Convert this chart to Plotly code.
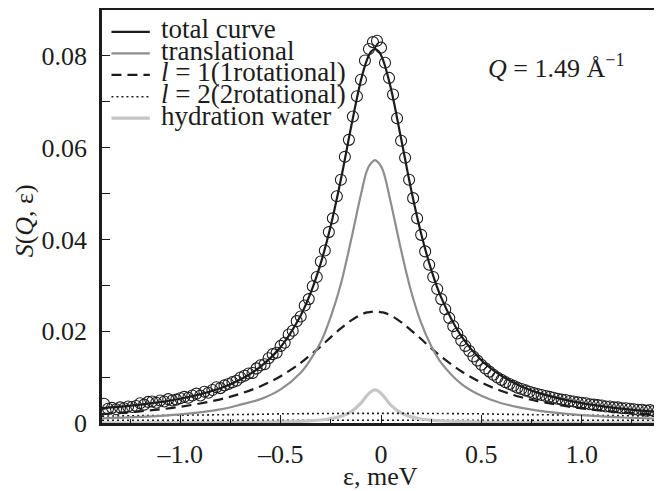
import plotly.graph_objects as go

# ---------------- data ----------------
eps_data = [-1.38, -1.36, -1.34, -1.32, -1.30, -1.28, -1.26, -1.24, -1.22, -1.20,
            -1.18, -1.16, -1.14, -1.12, -1.10, -1.08, -1.06, -1.04, -1.02, -1.00,
            -0.98, -0.96, -0.94, -0.92, -0.90, -0.88, -0.86, -0.84, -0.82, -0.80,
            -0.78, -0.76, -0.74, -0.72, -0.70, -0.68, -0.66, -0.64, -0.62, -0.60,
            -0.58, -0.56, -0.54, -0.52, -0.50, -0.48, -0.46, -0.44, -0.42, -0.40,
            -0.38, -0.36, -0.34, -0.32, -0.30, -0.28, -0.26, -0.24, -0.22, -0.20,
            -0.18, -0.16, -0.14, -0.12, -0.10, -0.08, -0.06, -0.04, -0.02, 0.00,
            0.02, 0.04, 0.06, 0.08, 0.10, 0.12, 0.14, 0.16, 0.18, 0.20,
            0.22, 0.24, 0.26, 0.28, 0.30, 0.32, 0.34, 0.36, 0.38, 0.40,
            0.42, 0.44, 0.46, 0.48, 0.50, 0.52, 0.54, 0.56, 0.58, 0.60,
            0.62, 0.64, 0.66, 0.68, 0.70, 0.72, 0.74, 0.76, 0.78, 0.80,
            0.82, 0.84, 0.86, 0.88, 0.90, 0.92, 0.94, 0.96, 0.98, 1.00,
            1.02, 1.04, 1.06, 1.08, 1.10, 1.12, 1.14, 1.16, 1.18, 1.20,
            1.22, 1.24, 1.26, 1.28, 1.30, 1.32, 1.34, 1.36, 1.38]
s_data = [0.0042, 0.0031, 0.0033, 0.0030, 0.0034, 0.0032, 0.0036, 0.0035, 0.0037, 0.0043,
          0.0040, 0.0046, 0.0047, 0.0044, 0.0049, 0.0047, 0.0052, 0.0049, 0.0051, 0.0054,
          0.0057, 0.0055, 0.0060, 0.0064, 0.0060, 0.0068, 0.0066, 0.0072, 0.0078, 0.0076,
          0.0082, 0.0085, 0.0089, 0.0092, 0.0099, 0.0103, 0.0108, 0.0109, 0.0119, 0.0126,
          0.0128, 0.0141, 0.0150, 0.0153, 0.0168, 0.0175, 0.0193, 0.0201, 0.0222, 0.0232,
          0.0256, 0.0270, 0.0298, 0.0318, 0.0352, 0.0376, 0.0416, 0.0446, 0.0494, 0.0530,
          0.0580, 0.0617, 0.0668, 0.0712, 0.0748, 0.0790, 0.0815, 0.0830, 0.0833, 0.0818,
          0.0785, 0.0752, 0.0716, 0.0664, 0.0615, 0.0578, 0.0530, 0.0490, 0.0446, 0.0410,
          0.0374, 0.0345, 0.0318, 0.0292, 0.0270, 0.0248, 0.0229, 0.0211, 0.0195, 0.0180,
          0.0168, 0.0157, 0.0145, 0.0136, 0.0127, 0.0119, 0.0112, 0.0105, 0.0099, 0.0094,
          0.0089, 0.0085, 0.0081, 0.0077, 0.0074, 0.0071, 0.0068, 0.0065, 0.0063, 0.0061,
          0.0059, 0.0057, 0.0055, 0.0053, 0.0051, 0.0050, 0.0048, 0.0047, 0.0045, 0.0044,
          0.0043, 0.0041, 0.0040, 0.0039, 0.0038, 0.0036, 0.0036, 0.0034, 0.0034, 0.0032,
          0.0032, 0.0031, 0.0030, 0.0029, 0.0029, 0.0027, 0.0028, 0.0026, 0.0027]

eps_curve = [-1.39, -1.2, -1.0, -0.8, -0.7, -0.6, -0.5, -0.4, -0.35, -0.3, -0.25, -0.2,
             -0.15, -0.1, -0.07, -0.05, -0.03, -0.01, 0.01, 0.05, 0.1, 0.15, 0.2, 0.25,
             0.3, 0.4, 0.5, 0.6, 0.7, 0.8, 1.0, 1.2, 1.385]
total_curve = [0.00322, 0.0040, 0.00528, 0.00759, 0.00949, 0.01227, 0.01655, 0.02343,
               0.02842, 0.03485, 0.04303, 0.05305, 0.06427, 0.07467, 0.07913, 0.08089,
               0.0815, 0.08089, 0.07913, 0.0728, 0.0620, 0.0509, 0.04125, 0.03343,
               0.02732, 0.01891, 0.01366, 0.01027, 0.00797, 0.00634, 0.00432, 0.00312,
               0.00237]
translational = [0.00099, 0.00132, 0.0019, 0.00297, 0.0040, 0.0052, 0.00733, 0.01096,
                 0.0139, 0.01763, 0.0232, 0.0303, 0.0397, 0.0498, 0.0550, 0.0566,
                 0.0573, 0.0566, 0.0550, 0.0478, 0.0377, 0.0287, 0.0218, 0.0168,
                 0.0131, 0.00854, 0.00593, 0.00432, 0.0033, 0.00257, 0.0017, 0.0012,
                 0.00091]
rot_l1 = [0.00193, 0.00254, 0.00353, 0.00516, 0.0064, 0.00802, 0.0102, 0.0131,
          0.0149, 0.0167, 0.0187, 0.0206, 0.0223, 0.0236, 0.0241, 0.0242,
          0.0243, 0.0242, 0.0241, 0.0234, 0.0220, 0.0202, 0.0183, 0.0163,
          0.01446, 0.01127, 0.00882, 0.00698, 0.0056, 0.00458, 0.00318, 0.00232,
          0.0018]
rot_l2 = [0.0015, 0.0016, 0.0017, 0.0018, 0.00185, 0.0019, 0.0020, 0.00203,
          0.00205, 0.00207, 0.00208, 0.00209, 0.0021, 0.0021, 0.0021, 0.0021,
          0.0021, 0.0021, 0.0021, 0.0021, 0.0021, 0.0021, 0.00209, 0.00208,
          0.00207, 0.00203, 0.0020, 0.0019, 0.00185, 0.0018, 0.0017, 0.0016,
          0.0015]
low_dotted = [0.0006, 0.0006, 0.0006, 0.0006, 0.0006, 0.0006, 0.0006, 0.0006,
              0.0006, 0.0006, 0.0006, 0.0006, 0.0006, 0.0006, 0.0006, 0.0006,
              0.0006, 0.0006, 0.0006, 0.0006, 0.0006, 0.0006, 0.0006, 0.0006,
              0.0006, 0.0006, 0.0006, 0.0006, 0.0006, 0.0006, 0.0006, 0.0006,
              0.0006]
hydration = [0.00003, 0.00005, 0.00007, 0.0001, 0.00013, 0.00016, 0.00025, 0.00037,
             0.0005, 0.00066, 0.00095, 0.00147, 0.00244, 0.00433, 0.0060, 0.00683,
             0.0072, 0.00683, 0.0060, 0.00386, 0.00219, 0.00134, 0.00088, 0.00062,
             0.00046, 0.00028, 0.00018, 0.00013, 0.0001, 0.00008, 0.00005, 0.00004,
             0.00003]

legend_labels = ["total curve", "translational", "<i>l</i> = 1(1rotational)",
                 "<i>l</i> = 2(2rotational)", "hydration water"]
x_tickvals = [-1.0, -0.5, 0.0, 0.5, 1.0]
x_ticktext = ["\u20131.0", "\u20130.5", "0", "0.5", "1.0"]
y_tickvals = [0, 0.02, 0.04, 0.06, 0.08]
y_ticktext = ["0", "0.02", "0.04", "0.06", "0.08"]

# ---------------- styles ----------------
INK = "#1c1c1c"
FONT = "Liberation Serif, Times New Roman, Times, serif"
styles = [
    dict(color=INK, width=2.2, dash="solid"),
    dict(color="#8e8e8e", width=2.2, dash="solid"),
    dict(color=INK, width=2.2, dash="10px,6px"),
    dict(color=INK, width=1.6, dash="2px,3px"),
    dict(color="#c6c6c6", width=3.2, dash="solid"),
]
series = [total_curve, translational, rot_l1, rot_l2, hydration]

fig = go.Figure()
fig.add_trace(go.Scatter(x=eps_curve, y=low_dotted, mode="lines",
                         line=dict(color=INK, width=1.4, dash="2px,3px"),
                         showlegend=False, hoverinfo="skip"))
for idx in [4, 3, 2, 1, 0]:
    fig.add_trace(go.Scatter(x=eps_curve, y=series[idx], mode="lines",
                             line=dict(shape="spline", smoothing=1.0, **styles[idx]),
                             name=legend_labels[idx], showlegend=False,
                             hoverinfo="skip"))
fig.add_trace(go.Scatter(x=eps_data, y=s_data, mode="markers",
                         marker=dict(symbol="circle-open", size=11,
                                     color=INK, line=dict(width=1.1, color=INK)),
                         showlegend=False))

# manual legend (tight rows like the original)
row_y = [0.947, 0.895, 0.843, 0.790, 0.738]
for i, lab in enumerate(legend_labels):
    st = styles[i]
    fig.add_shape(type="line", xref="paper", yref="paper",
                  x0=0.017, x1=0.086, y0=row_y[i], y1=row_y[i],
                  line=dict(color=st["color"], width=st["width"], dash=st["dash"]))
    fig.add_annotation(xref="paper", yref="paper", x=0.102, y=row_y[i] + 0.006,
                       text=lab, showarrow=False, xanchor="left", yanchor="middle",
                       font=dict(family=FONT, size=27, color=INK))

fig.add_annotation(xref="paper", yref="paper", x=0.945, y=0.863,
                   text="<i>Q</i> = 1.49 \u00c5<sup>\u22121</sup>", showarrow=False,
                   xanchor="right", yanchor="middle",
                   font=dict(family=FONT, size=26, color=INK))

# axis titles placed as annotations
fig.add_annotation(xref="paper", yref="paper", x=0.5, y=-0.13,
                   text="\u03b5, meV", showarrow=False, xanchor="center",
                   yanchor="middle", font=dict(family=FONT, size=26, color=INK))
fig.add_annotation(xref="paper", yref="paper", x=-0.139, y=0.49,
                   text="<i>S</i>(<i>Q</i>, \u03b5)", showarrow=False, textangle=-90,
                   xanchor="center", yanchor="middle",
                   font=dict(family=FONT, size=26, color=INK))

axis_common = dict(showline=True, linewidth=2.6, linecolor=INK, mirror=True,
                   ticks="inside", tickcolor=INK, tickwidth=1.2, showgrid=False,
                   zeroline=False, automargin=False,
                   tickfont=dict(family=FONT, size=26, color=INK))

fig.update_xaxes(range=[-1.39, 1.38], tickvals=x_tickvals, ticktext=x_ticktext,
                 ticklen=8, ticklabelstandoff=6,
                 minor=dict(tickvals=[-1.25, -0.75, -0.25, 0.25, 0.75, 1.25],
                            ticks="inside", ticklen=4, tickcolor=INK, tickwidth=1.2),
                 **axis_common)
fig.update_yaxes(range=[0, 0.09], tickvals=y_tickvals, ticktext=y_ticktext,
                 ticklen=8, ticklabelstandoff=7,
                 minor=dict(tickvals=[0.01, 0.03, 0.05, 0.07],
                            ticks="inside", ticklen=8, tickcolor=INK, tickwidth=1.2),
                 **axis_common)

# the page body adds an 8px offset; the figure is sized so the plot lands where the
# original's plot area is
fig.update_layout(width=654, height=483, plot_bgcolor="white", paper_bgcolor="white",
                  margin=dict(l=94, r=4, t=2, b=68), showlegend=False,
                  font=dict(family=FONT, size=26, color=INK))

fig.write_html("out.html")
